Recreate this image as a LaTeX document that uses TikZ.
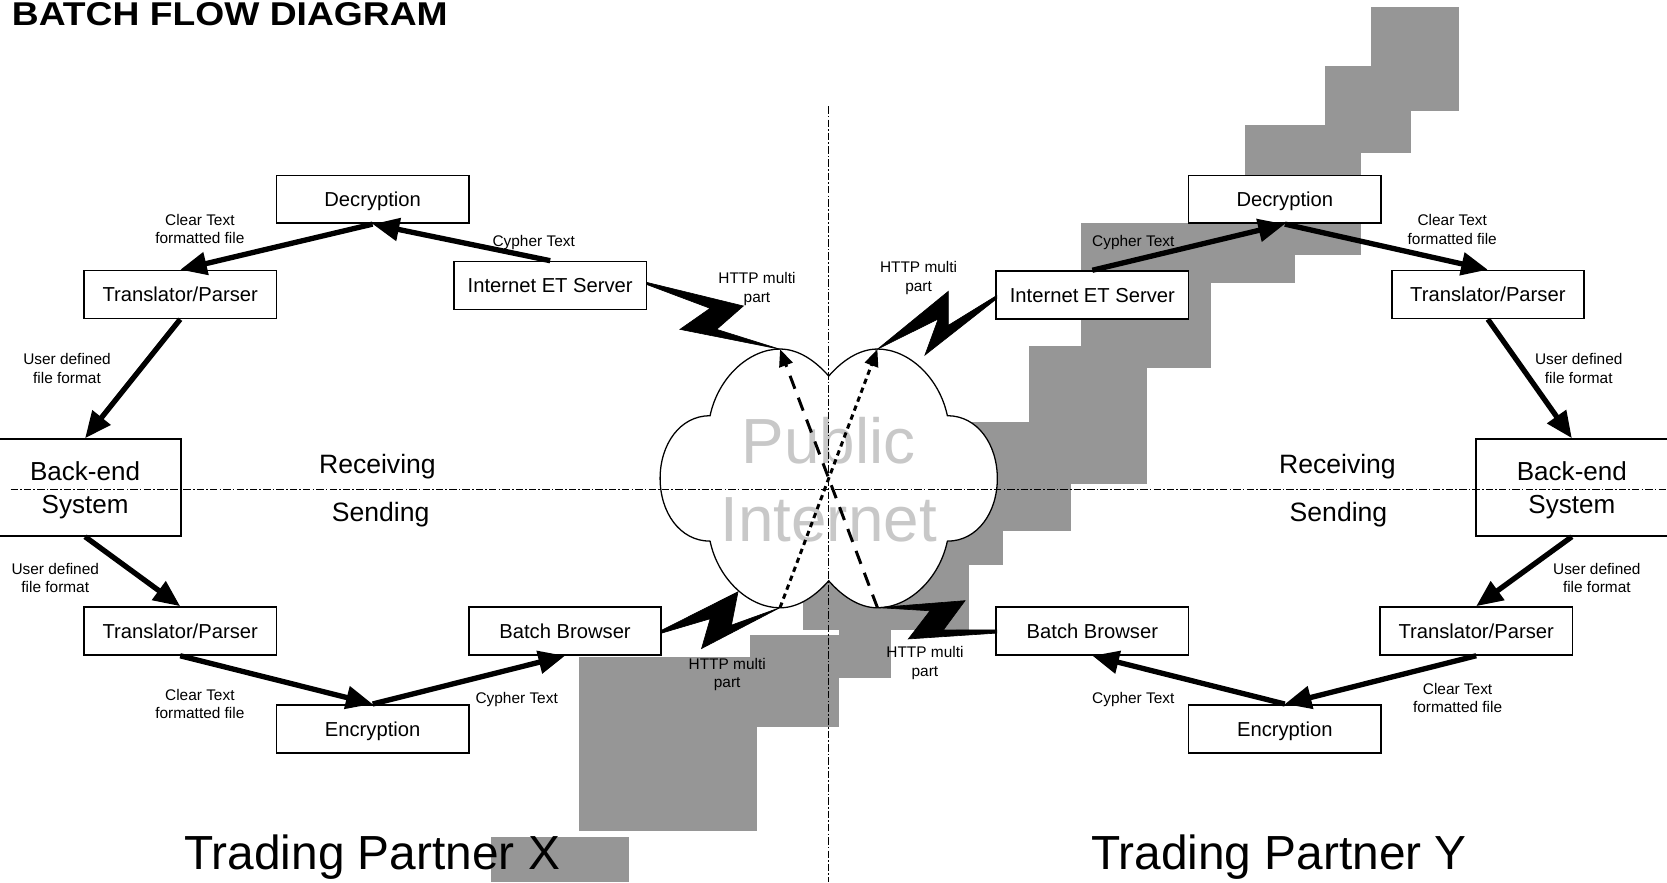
\documentclass[tikz,border=0pt]{standalone}
\usepackage{fontspec}
\setmainfont{Liberation Sans}
\usetikzlibrary{arrows.meta}
\definecolor{stairgray}{RGB}{150,150,150}
\definecolor{cloudtext}{RGB}{200,200,200}
\begin{document}
\begin{tikzpicture}[x=1pt,y=-1pt,
  boxnode/.style={draw, line width=1.6pt, fill=white, minimum width=181pt, minimum height=45pt, inner sep=0pt, text height=14pt, text depth=0pt, font=\fontsize{19}{22}\selectfont},
  bignode/.style={draw, line width=1.6pt, fill=white, minimum width=181pt, minimum height=91pt, inner sep=0pt},
  bigtext/.style={align=center, inner sep=0pt, font=\fontsize{24.5}{31}\selectfont},
  flow/.style={line width=5pt, -{Triangle[length=25pt,width=21pt]}},
  lbl/.style={font=\fontsize{14.5}{17.5}\selectfont, align=center, inner sep=0pt},
  midlbl/.style={font=\fontsize{25}{30}\selectfont, inner sep=0pt},
  biglbl/.style={font=\fontsize{45}{50}\selectfont, inner sep=0pt},
  bolt/.style={fill=black, draw=black, line width=0.6pt, line join=miter},
  stair/.style={fill=stairgray, draw=none},
  divline/.style={line width=1pt, dash pattern=on 7pt off 2pt on 1.5pt off 2pt},
  longdash/.style={line width=2.8pt, dash pattern=on 13pt off 9pt, -{Triangle[length=16pt,width=13pt]}},
  shortdash/.style={line width=2.8pt, dash pattern=on 5pt off 4pt, -{Triangle[length=16pt,width=13pt]}}
]
\useasboundingbox (0,0) rectangle (1568,830);

% gray staircase shapes
\fill[stair] (1290,7) rectangle (1372,104);
\fill[stair] (1246,62) rectangle (1327,144);
\fill[stair] (1171,118) rectangle (1280,240);
\fill[stair] (1017,210) rectangle (1218,266);
\fill[stair] (1017,210) rectangle (1139,346);
\fill[stair] (968,325) rectangle (1079,455);
\fill[stair] (880,397) rectangle (1079,455);
\fill[stair] (880,455) rectangle (1007,499);
\fill[stair] (880,499) rectangle (943,531);
\fill[stair] (755,520) rectangle (911.5,592.6);
\fill[stair] (789,592) rectangle (838,638);
\fill[stair] (705,597) rectangle (789,684);
\fill[stair] (544.6,617.7) rectangle (711.8,781.4);
\fill[stair] (462,787) rectangle (591.7,830);

% cloud
\begin{scope}[shift={(779.5,450)}]
\draw[line width=1.2pt, fill=white] (0,-96.3) .. controls (-12,-110) and (-28,-121.7) .. (-45.8,-121.7)
 .. controls (-75,-121.7) and (-104,-95) .. (-111.6,-59)
 .. controls (-140,-59) and (-158.6,-32) .. (-158.6,0)
 .. controls (-158.6,32) and (-140,59) .. (-111.6,59)
 .. controls (-104,95) and (-75,121.7) .. (-45.8,121.7)
 .. controls (-28,121.7) and (-12,110) .. (0,96.3)
 .. controls (12,110) and (28,121.7) .. (45.8,121.7)
 .. controls (75,121.7) and (104,95) .. (111.6,59)
 .. controls (140,59) and (158.6,32) .. (158.6,0)
 .. controls (158.6,-32) and (140,-59) .. (111.6,-59)
 .. controls (104,-95) and (75,-121.7) .. (45.8,-121.7)
 .. controls (28,-121.7) and (12,-110) .. (0,-96.3) -- cycle;
\end{scope}
\node[font=\fontsize{60}{73}\selectfont, text=cloudtext, align=center, inner sep=0pt] (pubnet) at (779.5,451) {Public\\Internet};

\coordinate (cTL) at (733.7,328.5);
\coordinate (cTR) at (825.3,328.5);
\coordinate (cBL) at (733.7,571.5);
\coordinate (cBR) at (825.3,571.5);

% divider lines
\coordinate (vtop) at (779.5,100);
\coordinate (vbot) at (779.5,830);
\coordinate (hleft) at (10,460);
\coordinate (hright) at (1568,460);

% boxes
\node[boxnode] (decL) at (350.5,187.5) {Decryption};
\node[boxnode] (tpTL) at (169.5,277) {Translator/Parser};
\node[boxnode] (ietL) at (517.5,268.5) {Internet ET Server};
\node[bignode] (beL) at (80,458.5) {};
\node[bigtext] (beLt) at (80,461) {Back-end\\System};
\node[boxnode] (tpBL) at (169.5,593.5) {Translator/Parser};
\node[boxnode] (bbL) at (531.5,593.5) {Batch Browser};
\node[boxnode] (encL) at (350.5,685.5) {Encryption};

\node[boxnode] (decR) at (1208.5,187.5) {Decryption};
\node[boxnode] (ietR) at (1027.5,277.5) {Internet ET Server};
\node[boxnode] (tpTR) at (1399.5,277) {Translator/Parser};
\node[bignode] (beR) at (1478.5,458.5) {};
\node[bigtext] (beRt) at (1478.5,461) {Back-end\\System};
\node[boxnode] (bbR) at (1027.5,593.5) {Batch Browser};
\node[boxnode] (tpBR) at (1388.5,593.5) {Translator/Parser};
\node[boxnode] (encR) at (1208.5,685.5) {Encryption};

\draw[divline] (vtop) -- (vbot);
\draw[divline] (hleft) -- (hright);

% dashed paths through the internet
\draw[longdash] (cBR) -- (cTL);
\draw[shortdash] (cBL) -- (cTR);

% lightning bolts
\fill[bolt] (608.3,265.6) -- (699.2,287.8) -- (674.1,309.8) -- (cTL) -- (639.6,309.8) -- (667.9,290) -- (608.3,267.6) -- cycle;
\fill[bolt] (937.5,278) -- (892,306) -- (892,274) -- (cTR) -- (882.5,300) -- (870,334) -- (937.5,281) -- cycle;
\fill[bolt] (622.4,592.8) -- (694.2,556.6) -- (688,588) -- (cBL) -- (659.9,610) -- (668,582) -- (622.4,595.5) -- cycle;
\fill[bolt] (937.5,592.5) -- (887.3,592.6) -- (907.7,565) -- (cBR) -- (874.8,574.5) -- (854.4,601) -- (937.5,595.5) -- cycle;

% flow arrows
\draw[flow] (ietL.north) -- (decL.south);
\draw[flow] (decL.south) -- (tpTL.north);
\draw[flow] (tpTL.south) -- (beL.north);
\draw[flow] (beL.south) -- (tpBL.north);
\draw[flow] (tpBL.south) -- (encL.north);
\draw[flow] (encL.north) -- (bbL.south);

\draw[flow] (ietR.north) -- (decR.south);
\draw[flow] (decR.south) -- (tpTR.north);
\draw[flow] (tpTR.south) -- (beR.north);
\draw[flow] (beR.south) -- (tpBR.north);
\draw[flow] (tpBR.south) -- (encR.north);
\draw[flow] (encR.north) -- (bbR.south);

% labels
\node[lbl] (ctTL) at (188,215.5) {Clear Text\\formatted file};
\node[lbl] (cyTL) at (502,228.5) {Cypher Text};
\node[lbl] (udTL) at (63,346.5) {User defined\\file format};
\node[lbl] (htTL) at (712,272) {HTTP multi\\part};
\node[lbl] (udBL) at (52,543.5) {User defined\\file format};
\node[lbl] (ctBL) at (188,662) {Clear Text\\formatted file};
\node[lbl] (cyBL) at (486,657.5) {Cypher Text};
\node[lbl] (htBL) at (684,634.5) {HTTP multi\\part};

\node[lbl] (htTR) at (864,261.5) {HTTP multi\\part};
\node[lbl] (cyTR) at (1066,228.5) {Cypher Text};
\node[lbl] (ctTR) at (1366,216) {Clear Text\\formatted file};
\node[lbl] (udTR) at (1485,346.5) {User defined\\file format};
\node[lbl] (udBR) at (1502,543.5) {User defined\\file format};
\node[lbl] (ctBR) at (1371,656.5) {Clear Text\\formatted file};
\node[lbl] (cyBR) at (1066,657.5) {Cypher Text};
\node[lbl] (htBR) at (870,623.5) {HTTP multi\\part};

\node[midlbl] (recL) at (355,439) {Receiving};
\node[midlbl] (sndL) at (358,484) {Sending};
\node[midlbl] (recR) at (1258,439) {Receiving};
\node[midlbl] (sndR) at (1259,484) {Sending};

\node[biglbl] (tpx) at (350,806) {Trading Partner X};
\node[biglbl] (tpy) at (1203,806) {Trading Partner Y};

\node[anchor=base west, inner sep=0pt] (title) at (11,24) {\scalebox{1.13}[1]{\fontsize{31}{33}\selectfont\bfseries BATCH FLOW DIAGRAM}};
\end{tikzpicture}
\end{document}
